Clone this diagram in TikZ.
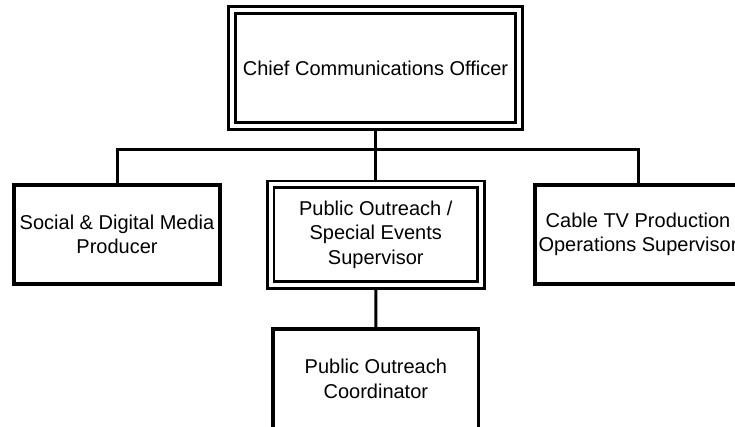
\documentclass[tikz,border=0pt]{standalone}
\usepackage{fontspec}
\setmainfont{Liberation Sans}
\usetikzlibrary{backgrounds}
\begin{document}
\begin{tikzpicture}[x=1pt,y=-1pt,
  box/.style={draw, line width=3.5pt, fill=white, align=center, inner sep=0pt,
    font=\fontsize{20}{24.5}\selectfont},
  dbox/.style={box, line width=2.9pt, double=white, double distance=4pt},
  conn/.style={line width=3pt}]
\useasboundingbox (0,0) rectangle (735,427);
\begin{scope}
\clip (0,0) rectangle (735,427);
\node[dbox, minimum width=287pt, minimum height=116pt] (ceo) at (375.5,68) {Chief Communications Officer};
\node[box, minimum width=206pt, minimum height=99pt] (social) at (117,234.5) {Social \& Digital Media\\Producer};
\node[dbox, minimum width=210.5pt, minimum height=100.5pt] (mid) at (375.75,234.75) {Public Outreach /\\Special Events\\Supervisor};
\node[box, minimum width=206pt, minimum height=99pt] (cable) at (638,234.5) {Cable TV Production\\Operations Supervisor};
\node[box, minimum width=205.7pt, minimum height=99.5pt] (coord) at (375.85,378.75) {Public Outreach\\Coordinator};
\end{scope}
\begin{scope}[on background layer]
\coordinate (bus) at (375.75,150);
\draw[conn] (ceo.south) -- (ceo.south |- bus);
\draw[conn] (social.north) |- (cable.north |- bus) -- (cable.north);
\draw[conn] (mid.north |- bus) -- (mid.north);
\draw[conn] (mid.south) -- (coord.north);
\end{scope}
\end{tikzpicture}
\end{document}
